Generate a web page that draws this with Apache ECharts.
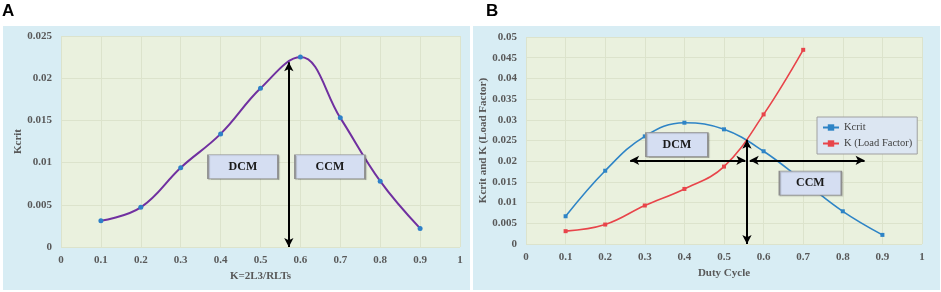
<!DOCTYPE html>
<html><head><meta charset="utf-8">
<script src="https://cdn.jsdelivr.net/npm/echarts@6/dist/echarts.min.js"></script>
<style>html,body{margin:0;padding:0;background:#fff}#c{width:941px;height:292px}</style>
</head><body><div id="c"></div>
<script>
// ---- data ----
const xCategories = [0.1, 0.2, 0.3, 0.4, 0.5, 0.6, 0.7, 0.8, 0.9];
const kcritA = [0.0031, 0.0047, 0.0094, 0.0134, 0.0188, 0.0225, 0.0153, 0.0078, 0.0022];
const kcritB = [0.0067, 0.0177, 0.0260, 0.0293, 0.0277, 0.0224, 0.0152, 0.0079, 0.0022];
const xLoad = [0.1, 0.2, 0.3, 0.4, 0.5, 0.6, 0.7];
const kLoad = [0.0031, 0.0047, 0.0093, 0.0133, 0.0187, 0.0313, 0.0469];
const xTickLabels = ['0','0.1','0.2','0.3','0.4','0.5','0.6','0.7','0.8','0.9','1'];
const yTickLabelsA = ['0','0.005','0.01','0.015','0.02','0.025'];
const yTickLabelsB = ['0','0.005','0.01','0.015','0.02','0.025','0.03','0.035','0.04','0.045','0.05'];
const seriesNames = ['Kcrit', 'K (Load Factor)'];
const axisNamesA = ['K=2L3/RLTs', 'Kcrit'];
const axisNamesB = ['Duty Cycle', 'Kcrit and K (Load Factor)'];
// annotation anchors (data units)
const arrowA = [[0.571, 0.0219], [0.571, 0]];
const arrowsB = [
  [[0.558, 0.0252], [0.558, 0]],
  [[0.263, 0.0202], [0.554, 0.0202]],
  [[0.565, 0.0202], [0.855, 0.0202]]
];
const boxesA = [['DCM', 0.456, 0.0095], ['CCM', 0.674, 0.0095]];
const boxesB = [['DCM', 0.381, 0.0240], ['CCM', 0.718, 0.0147]];

const serif = '"Liberation Serif", "DejaVu Serif", serif';
const gray = '#595959';
const pairs = (xs, ys) => xs.map((x, i) => [x, ys[i]]);

function xAxisOf(grid, name, gap) {
  return {
    type: 'value', gridIndex: grid, min: 0, max: 1, interval: 0.1,
    name: name, nameLocation: 'middle', nameGap: gap,
    nameTextStyle: { fontFamily: serif, fontWeight: 'bold', fontSize: 11, color: gray },
    axisLine: { show: false }, axisTick: { show: false },
    axisLabel: { fontFamily: serif, fontWeight: 'bold', fontSize: 11, color: gray, margin: 8,
      formatter: v => xTickLabels[Math.round(v * 10)] },
    splitLine: { show: true, lineStyle: { color: '#DCE3CC', width: 1 } }
  };
}
function yAxisOf(grid, max, labels, name, gap) {
  return {
    type: 'value', gridIndex: grid, min: 0, max: max, interval: 0.005,
    name: name, nameLocation: 'middle', nameGap: gap,
    nameTextStyle: { fontFamily: serif, fontWeight: 'bold', fontSize: 11, color: gray },
    axisLine: { show: false }, axisTick: { show: false },
    axisLabel: { fontFamily: serif, fontWeight: 'bold', fontSize: 11, color: gray, margin: 9,
      formatter: v => labels[Math.round(v / 0.005)] },
    splitLine: { show: true, lineStyle: { color: '#DCE3CC', width: 1 } }
  };
}
function boxes(list, w, h) {
  return {
    silent: true, animation: false,
    symbol: 'rect', symbolSize: [w, h],
    itemStyle: { color: '#D5DEF2', borderColor: '#8E8E8E', borderWidth: 1,
      shadowColor: 'rgba(0,0,0,0.2)', shadowBlur: 1, shadowOffsetX: 1, shadowOffsetY: 1 },
    label: { show: true, position: 'inside', fontFamily: serif, fontWeight: 'bold', fontSize: 12, color: '#1a1a1a',
      formatter: p => p.name },
    data: list.map(b => ({ name: b[0], coord: [b[1], b[2]] }))
  };
}
function arrows(list) {
  return {
    silent: true, animation: false,
    symbol: ['arrow', 'arrow'], symbolSize: [7, 9],
    label: { show: false },
    lineStyle: { color: '#000', width: 2, type: 'solid' },
    emphasis: { disabled: true },
    data: list.map(a => [{ coord: a[0] }, { coord: a[1] }])
  };
}

const chart = echarts.init(document.getElementById('c'), null, { renderer: 'canvas' });
chart.setOption({
  animation: false,
  graphic: [
    { type: 'rect', z: -10, shape: { x: 3, y: 26, width: 467, height: 264 }, style: { fill: '#D8EDF4' } },
    { type: 'rect', z: -10, shape: { x: 473, y: 26, width: 467, height: 264 }, style: { fill: '#D8EDF4' } },
    { type: 'text', left: 2, top: 3, style: { text: 'A', font: 'bold 17px "Liberation Sans", Arial, sans-serif', fill: '#000' } },
    { type: 'text', left: 486, top: 3, style: { text: 'B', font: 'bold 17px "Liberation Sans", Arial, sans-serif', fill: '#000' } }
  ],
  grid: [
    { left: 61, right: 481, top: 36, bottom: 45, show: true, backgroundColor: '#EAF1DE', borderWidth: 0 },
    { left: 526, right: 19, top: 37, bottom: 48, show: true, backgroundColor: '#EAF1DE', borderWidth: 0 }
  ],
  xAxis: [xAxisOf(0, axisNamesA[0], 21), xAxisOf(1, axisNamesB[0], 23)],
  yAxis: [yAxisOf(0, 0.025, yTickLabelsA, axisNamesA[1], 36), yAxisOf(1, 0.05, yTickLabelsB, axisNamesB[1], 31)],
  legend: {
    data: seriesNames, orient: 'vertical', left: 817, top: 117,
    backgroundColor: '#DCE6F2', borderColor: '#A0A0A0', borderWidth: 1,
    padding: [5, 5, 5, 5], itemGap: 5, itemWidth: 16, itemHeight: 8,
    textStyle: { fontFamily: serif, fontSize: 10.5, color: '#404040' }
  },
  series: [
    {
      type: 'line', xAxisIndex: 0, yAxisIndex: 0, data: pairs(xCategories, kcritA),
      smooth: 0.4, symbol: 'circle', symbolSize: 5,
      lineStyle: { color: '#7030A0', width: 2 }, itemStyle: { color: '#2E80C8' },
      markLine: arrows([arrowA]),
      markPoint: boxes(boxesA, 70, 24)
    },
    {
      name: seriesNames[0], type: 'line', xAxisIndex: 1, yAxisIndex: 1, data: pairs(xCategories, kcritB),
      smooth: 0.4, symbol: 'rect', symbolSize: 4,
      lineStyle: { color: '#2E84C6', width: 1.6 }, itemStyle: { color: '#2E84C6' }
    },
    {
      name: seriesNames[1], type: 'line', xAxisIndex: 1, yAxisIndex: 1, data: pairs(xLoad, kLoad),
      smooth: 0.4, symbol: 'rect', symbolSize: 4,
      lineStyle: { color: '#E8444A', width: 1.6 }, itemStyle: { color: '#E8444A' },
      markLine: arrows(arrowsB),
      markPoint: boxes(boxesB, 62, 24)
    }
  ]
});
</script></body></html>
